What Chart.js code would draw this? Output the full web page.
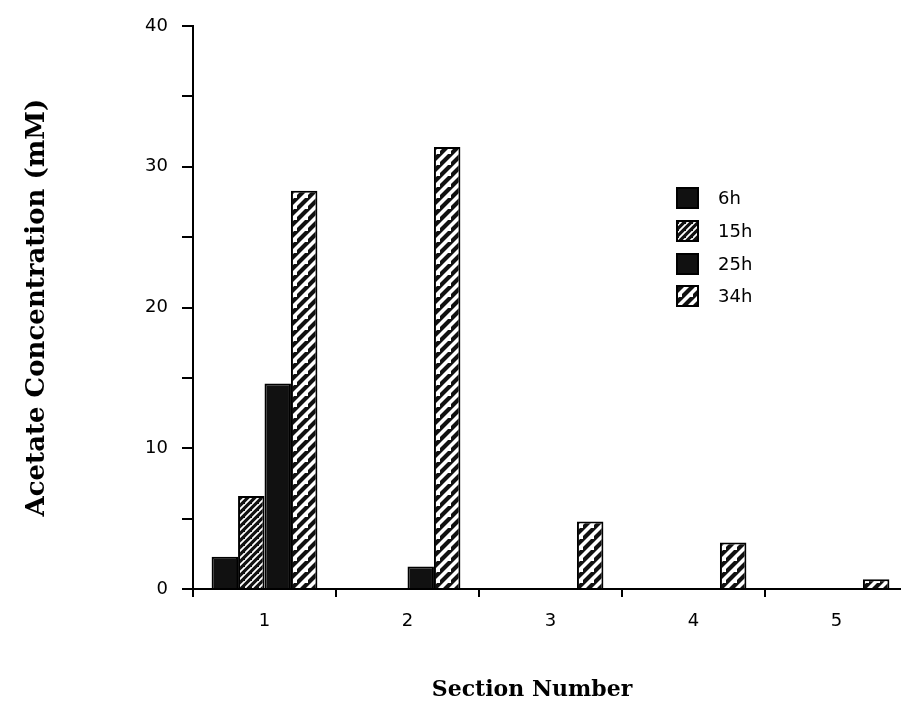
<!DOCTYPE html>
<html>
<head>
<meta charset="utf-8">
<script src="https://cdn.jsdelivr.net/npm/chart.js@4/dist/chart.umd.min.js"></script>
<style>
  html, body { margin: 0; padding: 0; background: #fff; overflow: hidden; }
  #wrap { width: 901px; height: 709px; overflow: hidden; }
  canvas { display: block; }
</style>
</head>
<body>
<div id="wrap"><canvas id="c" width="912" height="709"></canvas></div>
<script>
// Acetate concentration (mM) per section, sampled at four times
const sections = ['1', '2', '3', '4', '5'];
const seriesNames = ['6h', '15h', '25h', '34h'];
const h6  = [2.3, 0, 0, 0, 0];
const h15 = [6.6, 0, 0, 0, 0];
const h25 = [14.6, 1.6, 0, 0, 0];
const h34 = [28.3, 31.4, 4.8, 3.3, 0.7];
const yTicks = [0, 10, 20, 30, 40];

// hatch fills
function hatch(bg, fg, size, lw) {
  const p = document.createElement('canvas');
  p.width = size; p.height = size;
  const g = p.getContext('2d');
  g.fillStyle = bg; g.fillRect(0, 0, size, size);
  g.strokeStyle = fg; g.lineWidth = lw; g.lineCap = 'square';
  g.beginPath();
  g.moveTo(-1, size + 1); g.lineTo(size + 1, -1);
  g.moveTo(-size - 1, size + 1); g.lineTo(1, -1);
  g.moveTo(size - 1, 2 * size + 1); g.lineTo(2 * size + 1, size - 1);
  g.stroke();
  return document.getElementById('c').getContext('2d').createPattern(p, 'repeat');
}
const solid = '#111';
const dense = hatch('#111', '#fff', 7, 1.8);
const open = hatch('#fff', '#111', 11, 4.2);
const fills = [solid, dense, solid, open];

const values = [h6, h15, h25, h34];
const datasets = seriesNames.map((n, i) => ({
  label: n,
  data: values[i],
  backgroundColor: fills[i],
  borderColor: '#000',
  borderWidth: 2,
  borderSkipped: 'bottom',
  categoryPercentage: 0.74,
  barPercentage: 1.0
}));

const legendBox = {
  id: 'legendBox',
  afterDatasetsDraw(chart) {
    const ctx = chart.ctx;
    const rows = [198, 231, 264, 296];
    ctx.save();
    chart.data.datasets.forEach((ds, i) => {
      const y = rows[i];
      ctx.fillStyle = ds.backgroundColor;
      ctx.fillRect(677, y - 10, 21, 20);
      ctx.strokeStyle = '#000';
      ctx.lineWidth = 2;
      ctx.strokeRect(677, y - 10, 21, 20);
      ctx.fillStyle = '#000';
      ctx.font = '18px "DejaVu Sans"';
      ctx.textBaseline = 'middle';
      ctx.textAlign = 'left';
      ctx.fillText(ds.label, 718, y + 1);
    });
    ctx.restore();
  }
};

const xTitle = {
  id: 'xTitle',
  afterDraw(chart) {
    const ctx = chart.ctx;
    ctx.save();
    ctx.fillStyle = '#000';
    ctx.font = 'bold 22px "DejaVu Serif"';
    ctx.textAlign = 'center';
    ctx.textBaseline = 'middle';
    ctx.fillText('Section Number', 532, 690);
    ctx.restore();
  }
};

new Chart(document.getElementById('c'), {
  type: 'bar',
  data: { labels: sections, datasets },
  plugins: [legendBox, xTitle],
  options: {
    responsive: false,
    animation: false,
    layout: { padding: { top: 26, right: 4, left: 0, bottom: 0 } },
    plugins: { legend: { display: false }, tooltip: { enabled: false } },
    scales: {
      x: {
        offset: true,
        afterFit(s) { s.height = 120; },
        border: { display: true, color: '#000', width: 2 },
        grid: { display: true, offset: true, drawOnChartArea: false, drawTicks: true, tickLength: 8, color: '#000', lineWidth: 2 },
        ticks: { color: '#000', font: { family: 'DejaVu Sans', size: 18 }, padding: 14, maxRotation: 0 }
      },
      y: {
        min: 0, max: 40,
        afterFit(s) { s.width = 193; },
        afterBuildTicks(s) {
          s.ticks = [];
          for (let v = 0; v <= 40; v += 5) s.ticks.push({ value: v });
        },
        border: { display: true, color: '#000', width: 2 },
        grid: { drawOnChartArea: false, drawTicks: true, tickLength: 11, color: '#000', lineWidth: 2 },
        ticks: {
          color: '#000',
          font: { family: 'DejaVu Sans', size: 18 },
          padding: 14,
          autoSkip: false,
          callback: v => (yTicks.includes(v) ? String(v) : '')
        },
        title: {
          display: true,
          text: 'Acetate Concentration (mM)',
          color: '#000',
          font: { family: 'DejaVu Serif', size: 26, weight: 'bold' },
          padding: { top: 22, bottom: 0 }
        }
      }
    }
  }
});
</script>
</body>
</html>
